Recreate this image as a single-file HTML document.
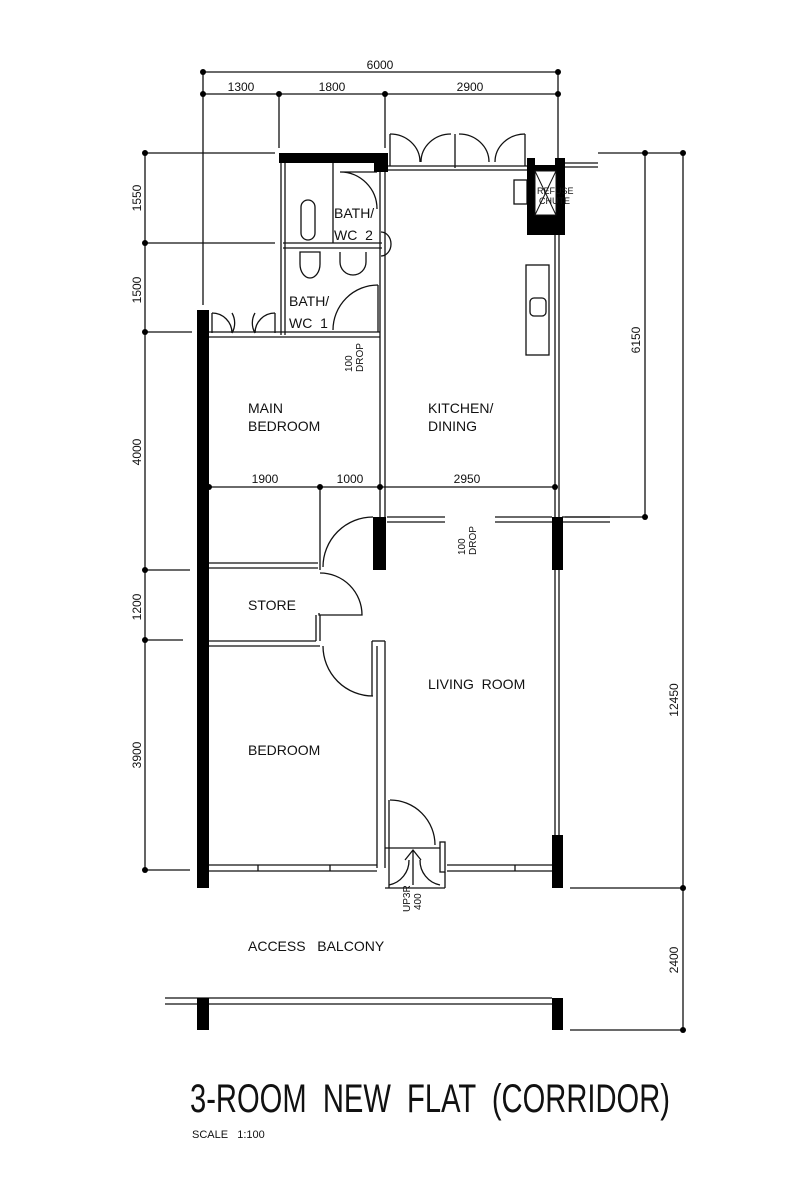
<!DOCTYPE html>
<html><head><meta charset="utf-8"><style>
html,body{margin:0;padding:0;background:#fff;}
svg{display:block;}
text{font-family:"Liberation Sans Narrow","Liberation Sans",sans-serif;fill:#111;white-space:pre;}
</style></head><body>
<svg width="800" height="1181" viewBox="0 0 800 1181" xmlns="http://www.w3.org/2000/svg" xml:space="preserve">
<g stroke="#111" stroke-width="1.3" fill="none">
<line x1="203" y1="72" x2="558" y2="72"/>
<line x1="203" y1="94" x2="558" y2="94"/>
<line x1="203" y1="72" x2="203" y2="305"/>
<line x1="279" y1="94" x2="279" y2="148"/>
<line x1="385" y1="94" x2="385" y2="148"/>
<line x1="558" y1="72" x2="558" y2="158"/>
<line x1="145" y1="153" x2="145" y2="870"/>
<line x1="145" y1="153" x2="275" y2="153"/>
<line x1="145" y1="243" x2="275" y2="243"/>
<line x1="145" y1="332" x2="192" y2="332"/>
<line x1="145" y1="570" x2="190" y2="570"/>
<line x1="145" y1="640" x2="183" y2="640"/>
<line x1="145" y1="870" x2="190" y2="870"/>
<line x1="645" y1="153" x2="645" y2="517"/>
<line x1="683" y1="153" x2="683" y2="1030"/>
<line x1="598" y1="153" x2="683" y2="153"/>
<line x1="565" y1="517" x2="645" y2="517"/>
<line x1="570" y1="888" x2="683" y2="888"/>
<line x1="570" y1="1030" x2="683" y2="1030"/>
<line x1="209" y1="487" x2="555" y2="487"/>
<line x1="320" y1="487" x2="320" y2="570"/>
<line x1="281" y1="163" x2="281" y2="335"/>
<line x1="285" y1="163" x2="285" y2="335"/>
<line x1="283" y1="243" x2="382" y2="243"/>
<line x1="283" y1="248" x2="382" y2="248"/>
<line x1="333" y1="163" x2="333" y2="243"/>
<rect x="301" y="200" width="14" height="40" rx="7"/>
<path d="M300 252 v12 a10 14 0 0 0 20 0 v-12 z"/>
<path d="M340 252 v10 a13 13 0 0 0 26 0 v-10"/>
<path d="M340 172 h37 M340 172 a37 37 0 0 1 37 37"/>
<path d="M381 232 a10 12 0 0 1 0 24"/>
<path d="M378 285 a45 45 0 0 0 -45 45"/>
<line x1="378" y1="285" x2="378" y2="332"/>
<line x1="380" y1="165" x2="380" y2="517"/>
<line x1="385" y1="165" x2="385" y2="517"/>
<line x1="555" y1="235" x2="555" y2="835"/>
<line x1="559" y1="235" x2="559" y2="835"/>
<line x1="388" y1="166" x2="527" y2="166"/>
<line x1="388" y1="170" x2="527" y2="170"/>
<line x1="565" y1="163" x2="598" y2="163"/>
<line x1="565" y1="167" x2="598" y2="167"/>
<path d="M390 134 v0 M390 134 a30 28 0 0 1 30 28 M451 134 a30 28 0 0 0 -30 28"/>
<path d="M459 134 a30 28 0 0 1 30 28 M525 134 a30 28 0 0 0 -30 28"/>
<line x1="390" y1="134" x2="390" y2="166"/>
<line x1="525" y1="134" x2="525" y2="166"/>
<line x1="455" y1="134" x2="455" y2="168"/>
<rect x="514" y="180" width="13" height="24"/>
<rect x="526" y="265" width="23" height="90"/>
<rect x="530" y="298" width="16" height="18" rx="4"/>
<line x1="209" y1="332" x2="380" y2="332"/>
<line x1="209" y1="337" x2="380" y2="337"/>
<path d="M212 313 a20 20 0 0 1 20 20 M232 313 a20 20 0 0 1 -0 20"/>
<path d="M275 313 a20 20 0 0 0 -20 20 M255 313 a20 20 0 0 0 0 20"/>
<line x1="212" y1="313" x2="212" y2="333"/>
<line x1="275" y1="313" x2="275" y2="333"/>
<line x1="387" y1="517" x2="445" y2="517"/>
<line x1="387" y1="522" x2="445" y2="522"/>
<line x1="495" y1="517" x2="552" y2="517"/>
<line x1="495" y1="522" x2="552" y2="522"/>
<line x1="562" y1="517" x2="610" y2="517"/>
<line x1="562" y1="522" x2="610" y2="522"/>
<line x1="209" y1="563" x2="318" y2="563"/>
<line x1="209" y1="568" x2="318" y2="568"/>
<path d="M373 517 a50 50 0 0 0 -50 50"/>
<path d="M320 573 a42 42 0 0 1 42 42 h-43 v-2"/>
<line x1="316" y1="615" x2="316" y2="641"/>
<line x1="320" y1="615" x2="320" y2="641"/>
<line x1="209" y1="641" x2="316" y2="641"/>
<line x1="209" y1="646" x2="320" y2="646"/>
<path d="M323 646 a50 50 0 0 0 50 50"/>
<line x1="372" y1="641" x2="372" y2="696"/>
<line x1="372" y1="641" x2="385" y2="641"/>
<line x1="377" y1="646" x2="377" y2="868"/>
<line x1="385" y1="641" x2="385" y2="868"/>
<line x1="209" y1="865" x2="377" y2="865"/>
<line x1="209" y1="871" x2="377" y2="871"/>
<line x1="258" y1="865" x2="258" y2="871"/>
<line x1="330" y1="865" x2="330" y2="871"/>
<line x1="447" y1="865" x2="552" y2="865"/>
<line x1="447" y1="871" x2="552" y2="871"/>
<line x1="515" y1="865" x2="515" y2="871"/>
<path d="M390 800 a45 45 0 0 1 45 45"/>
<line x1="389" y1="800" x2="389" y2="888"/>
<rect x="440" y="842" width="5" height="30"/>
<line x1="385" y1="848" x2="440" y2="848"/>
<line x1="385" y1="888" x2="445" y2="888"/>
<line x1="445" y1="872" x2="445" y2="888"/>
<line x1="413" y1="850" x2="413" y2="885"/>
<path d="M405 860 l8 -10 l8 10 M389 885 a25 25 0 0 0 20 -25 M440 885 a25 25 0 0 1 -20 -25"/>
<line x1="165" y1="998" x2="552" y2="998"/>
<line x1="165" y1="1004" x2="552" y2="1004"/>
</g>
<g fill="#000">
<rect x="279" y="153" width="106" height="10"/>
<rect x="374" y="153" width="14" height="19"/>
<rect x="527" y="158" width="38" height="77"/>
<rect x="535" y="153" width="20" height="12" fill="#fff"/>
<rect x="197" y="310" width="12" height="578"/>
<rect x="373" y="517" width="13" height="53"/>
<rect x="552" y="517" width="11" height="53"/>
<rect x="552" y="835" width="11" height="53"/>
<rect x="197" y="998" width="12" height="32"/>
<rect x="552" y="998" width="11" height="32"/>
</g>
<rect x="535" y="171" width="21" height="44" fill="#fff" stroke="#111" stroke-width="1"/>
<g stroke="#111" stroke-width="1"><line x1="535" y1="171" x2="556" y2="215"/><line x1="556" y1="171" x2="535" y2="215"/></g>
<g fill="#000">
<circle cx="203" cy="72" r="3"/><circle cx="558" cy="72" r="3"/>
<circle cx="203" cy="94" r="3"/><circle cx="279" cy="94" r="3"/><circle cx="385" cy="94" r="3"/><circle cx="558" cy="94" r="3"/>
<circle cx="145" cy="153" r="3"/><circle cx="145" cy="243" r="3"/><circle cx="145" cy="332" r="3"/><circle cx="145" cy="570" r="3"/><circle cx="145" cy="640" r="3"/><circle cx="145" cy="870" r="3"/>
<circle cx="645" cy="153" r="3"/><circle cx="645" cy="517" r="3"/>
<circle cx="683" cy="153" r="3"/><circle cx="683" cy="888" r="3"/><circle cx="683" cy="1030" r="3"/>
<circle cx="209" cy="487" r="3"/><circle cx="320" cy="487" r="3"/><circle cx="380" cy="487" r="3"/><circle cx="555" cy="487" r="3"/>
</g>
<g font-size="12">
<text x="380" y="69" text-anchor="middle">6000</text>
<text x="241" y="91" text-anchor="middle">1300</text>
<text x="332" y="91" text-anchor="middle">1800</text>
<text x="470" y="91" text-anchor="middle">2900</text>
<text x="265" y="483" text-anchor="middle">1900</text>
<text x="350" y="483" text-anchor="middle">1000</text>
<text x="467" y="483" text-anchor="middle">2950</text>
<text transform="translate(141,198) rotate(-90)" text-anchor="middle">1550</text>
<text transform="translate(141,290) rotate(-90)" text-anchor="middle">1500</text>
<text transform="translate(141,452) rotate(-90)" text-anchor="middle">4000</text>
<text transform="translate(141,607) rotate(-90)" text-anchor="middle">1200</text>
<text transform="translate(141,755) rotate(-90)" text-anchor="middle">3900</text>
<text transform="translate(640,340) rotate(-90)" text-anchor="middle">6150</text>
<text transform="translate(678,700) rotate(-90)" text-anchor="middle">12450</text>
<text transform="translate(678,960) rotate(-90)" text-anchor="middle">2400</text>
</g>
<g font-size="14">
<text x="334" y="218">BATH/</text>
<text x="334" y="240">WC  2</text>
<text x="289" y="306">BATH/</text>
<text x="289" y="328">WC  1</text>
<text x="248" y="413">MAIN</text>
<text x="248" y="431">BEDROOM</text>
<text x="428" y="413">KITCHEN/</text>
<text x="428" y="431">DINING</text>
<text x="248" y="610">STORE</text>
<text x="428" y="689">LIVING  ROOM</text>
<text x="248" y="755">BEDROOM</text>
<text x="248" y="951">ACCESS   BALCONY</text>
</g>
<g font-size="9">
<text x="537" y="194">REFUSE</text>
<text x="539" y="204">CHUTE</text>
</g>
<g font-size="10">
<text transform="translate(352,372) rotate(-90)">100</text>
<text transform="translate(363,372) rotate(-90)">DROP</text>
<text transform="translate(465,555) rotate(-90)">100</text>
<text transform="translate(476,555) rotate(-90)">DROP</text>
<text transform="translate(410,912) rotate(-90)">UP3R</text>
<text transform="translate(421,910) rotate(-90)">400</text>
</g>
<text x="190" y="1112" font-size="40" fill="#333" textLength="480" lengthAdjust="spacingAndGlyphs">3-ROOM  NEW  FLAT  (CORRIDOR)</text>
<text x="192" y="1138" font-size="11">SCALE   1:100</text>
</svg>
</body></html>
